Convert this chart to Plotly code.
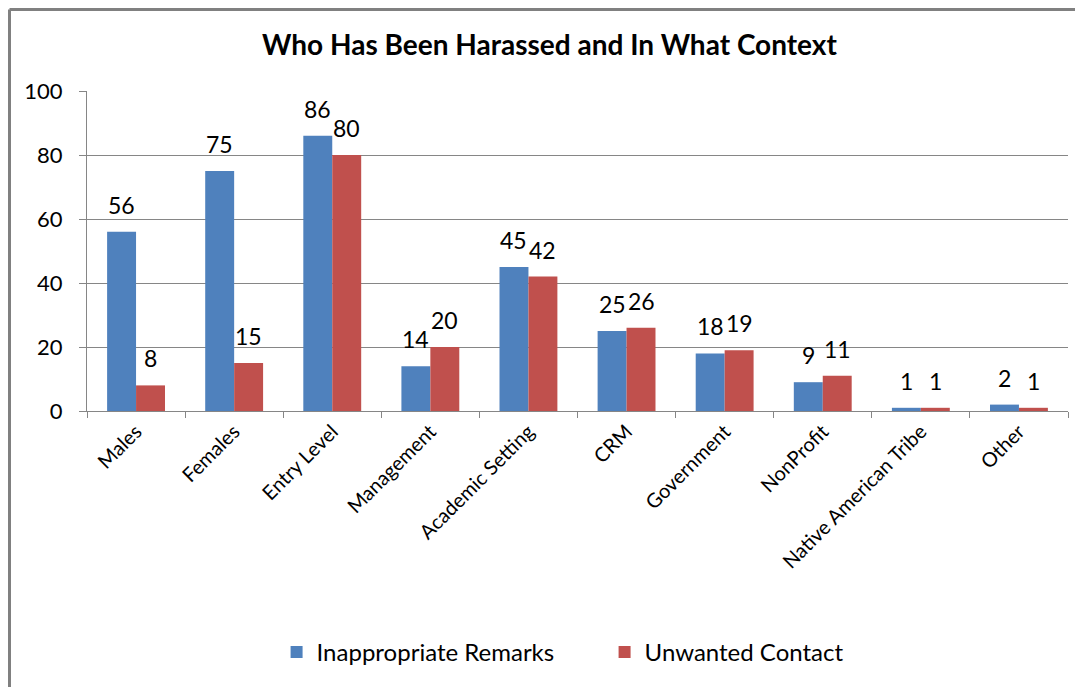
import plotly.graph_objects as go

categories = ["Males", "Females", "Entry Level", "Management", "Academic Setting",
              "CRM", "Government", "NonProfit", "Native American Tribe", "Other"]
remarks = [56, 75, 86, 14, 45, 25, 18, 9, 1, 2]
contact = [8, 15, 80, 20, 42, 26, 19, 11, 1, 1]

FONT = "Lato, Open Sans, sans-serif"
BLUE = "#4F81BD"
RED = "#C0504D"

fig = go.Figure()
fig.add_trace(go.Bar(x=categories, y=remarks, name="Inappropriate Remarks",
                     marker_color=BLUE, marker_line_width=0))
fig.add_trace(go.Bar(x=categories, y=contact, name="Unwanted Contact",
                     marker_color=RED, marker_line_width=0))

# data labels sit a bit above each bar, as in Excel
half_bar = 981 / 10 * (1 - 0.41) / 4
annotations = []
for series, shift in ((remarks, -half_bar), (contact, half_bar)):
    for cat, val in zip(categories, series):
        annotations.append(dict(x=cat, y=val, text=str(val), showarrow=False,
                                xanchor="center", yanchor="bottom", xshift=shift,
                                yshift=11, font=dict(size=23, color="black")))

fig.update_layout(
    width=1083, height=687,
    margin=dict(l=79, r=23, t=83, b=284, autoexpand=False),
    paper_bgcolor="white", plot_bgcolor="white",
    font=dict(family=FONT, size=20, color="black"),
    title=dict(text="<b>Who Has Been Harassed and In What Context</b>",
               x=0.5, xanchor="center", y=0.946, yanchor="middle",
               font=dict(size=28, color="black")),
    barmode="group", bargap=0.41, bargroupgap=0,
    legend=dict(orientation="h", x=0.248, xanchor="left", xref="container",
                yref="container", y=0.062, yanchor="middle", entrywidth=283,
                font=dict(size=24), traceorder="normal"),
    xaxis=dict(tickangle=-45, showline=True, linecolor="#868686", linewidth=1,
               ticks="outside", tickson="boundaries", ticklen=6, tickcolor="#868686",
               showgrid=False, automargin=False, tickfont=dict(size=20)),
    yaxis=dict(range=[0, 100], dtick=20, showline=True, linecolor="#868686",
               gridcolor="#868686", gridwidth=1, ticks="outside", ticklen=7,
               tickcolor="#868686", zeroline=False, automargin=False,
               ticklabelstandoff=12, tickfont=dict(size=22)),
    annotations=annotations,
    shapes=[
        dict(type="line", xref="paper", yref="paper", x0=(1.5 - 79) / 981, x1=1.1,
             y0=(403 - 1.5) / 320, y1=(403 - 1.5) / 320,
             line=dict(color="#808080", width=3)),
        dict(type="line", xref="paper", yref="paper", x0=(1.5 - 79) / 981, x1=(1.5 - 79) / 981,
             y0=(403 - 1.5) / 320, y1=-1.0,
             line=dict(color="#808080", width=3)),
    ],
)

fig.write_html("out.html")
